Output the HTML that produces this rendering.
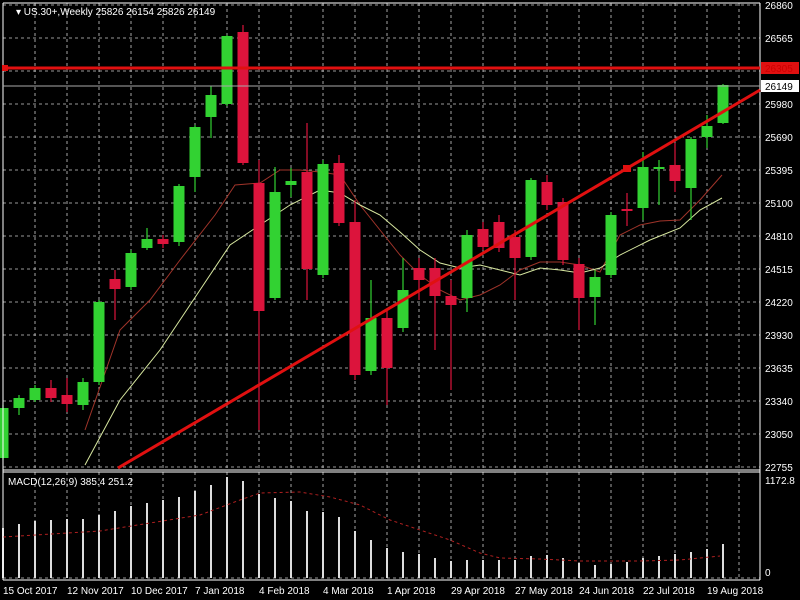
<!DOCTYPE html>
<html><head><meta charset="utf-8"><style>
html,body{margin:0;padding:0;background:#000;width:800px;height:600px;overflow:hidden}
svg{display:block;font-family:"Liberation Sans",sans-serif;font-size:10px}
</style></head><body>
<svg id="s" width="800" height="600" xmlns="http://www.w3.org/2000/svg">
<rect width="800" height="600" fill="#000"/>
<g id="grid"></g>
<g id="ma"></g>
<g id="candles"></g>
<g id="macd"></g>
<line x1="3" y1="3" x2="760" y2="3" stroke="#fff"/>
<line x1="3" y1="3" x2="3" y2="580" stroke="#fff"/>
<line x1="760" y1="3" x2="760" y2="580" stroke="#fff"/>
<line x1="3" y1="470" x2="760" y2="470" stroke="#fff"/>
<line x1="3" y1="472" x2="760" y2="472" stroke="#fff"/>
<line x1="3" y1="580" x2="760" y2="580" stroke="#fff"/>
<!-- resistance line -->
<line x1="3" y1="68" x2="760" y2="68" stroke="#e01010" stroke-width="3"/>
<rect x="2" y="65" width="6" height="6" fill="#e01010"/>
<line x1="3" y1="86" x2="760" y2="86" stroke="#aaa"/>
<line x1="118" y1="468" x2="760" y2="90" stroke="#e01010" stroke-width="3"/>
<rect x="623" y="165" width="8" height="7" fill="#e01010"/>
<g fill="#fff">
<text x="16" y="15">▾ US.30+,Weekly  25826 26154 25826 26149</text>
<text x="765" y="9">26860</text>
<text x="765" y="42">26565</text>
<text x="765" y="108">25980</text>
<text x="765" y="141">25690</text>
<text x="765" y="174">25395</text>
<text x="765" y="207">25100</text>
<text x="765" y="240">24810</text>
<text x="765" y="273">24515</text>
<text x="765" y="306">24220</text>
<text x="765" y="339">23930</text>
<text x="765" y="372">23635</text>
<text x="765" y="405">23340</text>
<text x="765" y="438">23050</text>
<text x="765" y="471">22755</text>
<text x="765" y="484">1172.8</text>
<text x="765" y="576">0</text>
<text x="8" y="485">MACD(12,26,9) 385.4 251.2</text>
</g>
<rect x="761" y="62" width="38" height="12" fill="#e01010"/>
<text x="765" y="72" fill="#c00">26305</text>
<rect x="761" y="80" width="38" height="12" fill="#fff"/>
<text x="765" y="90" fill="#000">26149</text>
<g fill="#fff">
<text x="3" y="594">15 Oct 2017</text>
<text x="67" y="594">12 Nov 2017</text>
<text x="131" y="594">10 Dec 2017</text>
<text x="195" y="594">7 Jan 2018</text>
<text x="259" y="594">4 Feb 2018</text>
<text x="323" y="594">4 Mar 2018</text>
<text x="387" y="594">1 Apr 2018</text>
<text x="451" y="594">29 Apr 2018</text>
<text x="515" y="594">27 May 2018</text>
<text x="579" y="594">24 Jun 2018</text>
<text x="643" y="594">22 Jul 2018</text>
<text x="707" y="594">19 Aug 2018</text>
</g>
</svg>
<script>
var NS="http://www.w3.org/2000/svg";
function el(p,t,a){var e=document.createElementNS(NS,t);for(var k in a)e.setAttribute(k,a[k]);document.getElementById(p).appendChild(e);return e;}
var hy=[5,38,71,104,137,170,203,236,269,302,335,368,401,434,467];
hy.forEach(function(y){el("grid","line",{x1:3,y1:y,x2:760,y2:y,stroke:"#ccc","stroke-dasharray":"3,3","stroke-width":0.8});});
for(var x=35;x<760;x+=32){el("grid","line",{x1:x,y1:3,x2:x,y2:470,stroke:"#ccc","stroke-dasharray":"3,3","stroke-width":0.8});
el("grid","line",{x1:x,y1:472,x2:x,y2:580,stroke:"#ccc","stroke-dasharray":"3,3","stroke-width":0.8});}
el("grid","line",{x1:3,y1:578,x2:760,y2:578,stroke:"#ccc","stroke-dasharray":"3,3","stroke-width":0.8});
// [color, bodyTop, bodyBot, wickTop, wickBot]
var C=[["g",408,458,405,460],["g",398,408,395,415],["g",388,400,385,402],["r",388,398,380,402],["r",395,404,378,412],
["g",382,405,378,410],["g",302,382,300,385],["r",279,289,270,320],["g",253,287,250,290],["g",239,248,228,250],
["r",239,244,235,248],["g",186,242,184,246],["g",127,177,125,192],["g",95,117,86,138],["g",36,104,35,106],
["r",32,163,25,165],["r",183,311,160,430],["g",192,298,167,300],["g",181,185,168,197],["r",172,269,123,300],
["g",164,275,160,278],["r",163,223,155,226],["r",222,375,200,380],["g",318,371,280,375],["r",318,368,310,405],
["g",290,328,258,332],["r",268,280,258,300],["r",268,296,258,350],["r",296,305,280,390],["g",235,298,230,312],
["r",229,247,222,250],["r",222,248,215,252],["r",237,258,230,300],["g",180,257,178,260],["r",182,205,175,210],
["r",202,260,198,265],["r",264,298,258,330],["g",277,297,270,325],["g",215,275,212,278],["r",209,211,193,226],
["g",167,208,152,220],["g",167,169,160,205],["r",165,181,143,192],["g",139,188,137,220],["g",126,137,115,148],["g",85,123,84,124]];
C.forEach(function(c,i){var x=3+16*i,col=c[0]=="g"?"#32d232":"#dc143c";
el("candles","line",{x1:x,y1:c[3],x2:x,y2:c[4],stroke:col,"stroke-width":1.2});
el("candles","rect",{x:x-5.5,y:c[1],width:11,height:Math.max(2,c[2]-c[1]),fill:col});});
var m1="85,430 120,330 150,300 180,260 215,215 235,185 260,183 280,170 300,170 320,172 340,175 360,205 380,230 400,255 420,275 440,290 460,300 480,295 500,285 520,270 540,262 560,262 580,265 600,272 620,235 640,225 660,221 680,220 700,200 722,175";
var m2="85,465 120,400 160,350 200,290 230,245 260,225 290,205 320,190 340,193 360,205 380,215 400,232 420,250 440,263 460,268 480,265 500,270 520,275 540,268 560,270 580,273 600,268 620,255 650,240 680,228 700,210 722,198";
el("ma","polyline",{points:m1,fill:"none",stroke:"#a0342a","stroke-width":1});
el("ma","polyline",{points:m2,fill:"none",stroke:"#d8e8a0","stroke-width":1});
var H=[528,524,521,520,519,519,515,511,506,503,500,497,491,485,477,481,494,498,501,511,512,517,531,540,548,552,554,558,561,560,560,560,560,556,555,558,563,565,564,562,558,556,554,552,549,544];
H.forEach(function(t,i){var x=3+16*i;el("macd","line",{x1:x,y1:t,x2:x,y2:578,stroke:"#ddd","stroke-width":2});});
el("macd","polyline",{points:"3,537 100,531 200,515 240,500 260,493 300,492 330,497 360,505 390,520 420,530 450,540 480,553 500,558 540,559 580,561 640,561 680,560 700,558 720,556",fill:"none",stroke:"#b02020","stroke-width":1,"stroke-dasharray":"3,3"});
</script>
</body></html>
